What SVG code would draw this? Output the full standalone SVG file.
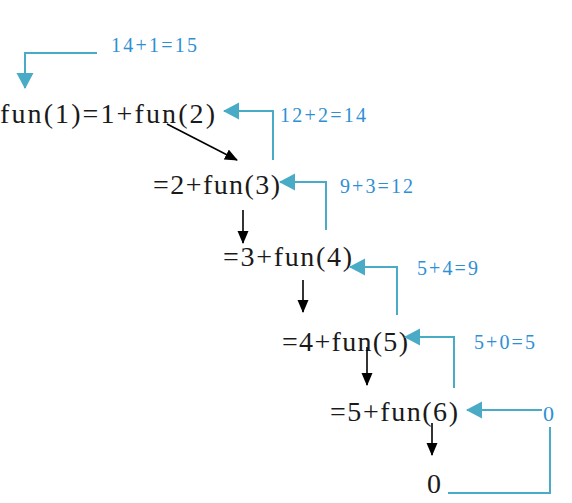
<svg xmlns="http://www.w3.org/2000/svg" width="572" height="503" viewBox="0 0 572 503">
<style>
.t{font-family:"Liberation Serif","DejaVu Serif",serif;font-size:28px;fill:#1a1a1a}
.b{font-family:"Liberation Serif","DejaVu Serif",serif;font-size:20px;fill:#2e8fd4}
.tl{fill:none;stroke:#4aabc6;stroke-width:2}
.bl{fill:none;stroke:#000;stroke-width:1.6}
</style>
<defs>
<marker id="ta" markerUnits="userSpaceOnUse" markerWidth="18" markerHeight="18" refX="15" refY="8.5" orient="auto"><path d="M0,0 L16,8.5 L0,17 z" fill="#4aabc6"/></marker>
<marker id="ba" markerUnits="userSpaceOnUse" markerWidth="14" markerHeight="12" refX="12" refY="5.5" orient="auto"><path d="M0,0 L13,5.5 L0,11 z" fill="#000"/></marker>
</defs>
<rect width="572" height="503" fill="#fff"/>
<g id="n1"><text class="t" x="0" y="123" textLength="215" lengthAdjust="spacing">fun(1)=1+fun(2)</text></g>
<g id="n2"><text class="t" x="153" y="194" textLength="127" lengthAdjust="spacing">=2+fun(3)</text></g>
<g id="n3"><text class="t" x="223" y="266" textLength="129" lengthAdjust="spacing">=3+fun(4)</text></g>
<g id="n4"><text class="t" x="282" y="351" textLength="126" lengthAdjust="spacing">=4+fun(5)</text></g>
<g id="n5"><text class="t" x="330" y="421" textLength="128" lengthAdjust="spacing">=5+fun(6)</text></g>
<g id="n6"><text class="t" x="427" y="493">0</text></g>
<g id="labels">
<text class="b" x="111" y="52" textLength="86" lengthAdjust="spacing">14+1=15</text>
<text class="b" x="280" y="122" textLength="86" lengthAdjust="spacing">12+2=14</text>
<text class="b" x="340" y="193" textLength="73" lengthAdjust="spacing">9+3=12</text>
<text class="b" x="417" y="275" textLength="61" lengthAdjust="spacing">5+4=9</text>
<text class="b" x="474" y="349" textLength="61" lengthAdjust="spacing">5+0=5</text>
<text class="b" x="543" y="421" style="font-size:22px">0</text>
</g>
<g id="connectors">
<path class="tl" d="M97,53 H25 V88" marker-end="url(#ta)"/>
<path class="tl" d="M273,160 V111 H224" marker-end="url(#ta)"/>
<path class="tl" d="M326,230 V182 H280" marker-end="url(#ta)"/>
<path class="tl" d="M397,315 V267 H350" marker-end="url(#ta)"/>
<path class="tl" d="M454,388 V337 H405" marker-end="url(#ta)"/>
<path class="tl" d="M542,410 H467" marker-end="url(#ta)"/>
<path class="tl" d="M448,493 H550 V427"/>
<path class="bl" d="M167,124 L237,160" marker-end="url(#ba)"/>
<path class="bl" d="M243,210 V243" marker-end="url(#ba)"/>
<path class="bl" d="M303,280 V312" marker-end="url(#ba)"/>
<path class="bl" d="M367,347 V385" marker-end="url(#ba)"/>
<path class="bl" d="M432,423 V455" marker-end="url(#ba)"/>
</g>
</svg>
